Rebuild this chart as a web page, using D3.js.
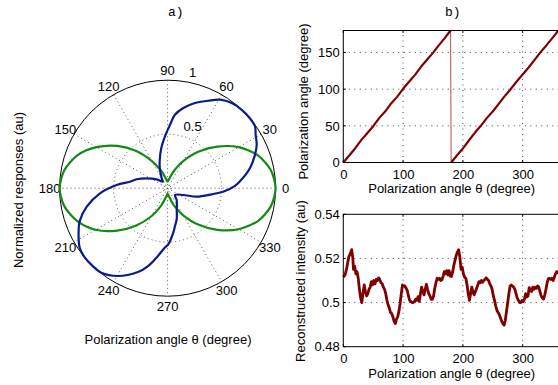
<!DOCTYPE html>
<html><head><meta charset="utf-8">
<script src="https://cdn.jsdelivr.net/npm/d3@7"></script>
<style>
body{margin:0;background:#fff}
svg{display:block}
text{font-family:"Liberation Sans",Arial,Helvetica,sans-serif;font-size:13px;fill:#000}
.mono{font-family:"Liberation Mono","Courier New",monospace}
</style>
</head><body>
<svg id="c" width="558" height="385"></svg>
<script>
// ---------- DATA ----------
// Panel a) polar responses
const angleTicks = [0,30,60,90,120,150,180,210,240,270,300,330];
const radiusTicks = [0.5, 1];
const greenTheta = [0,10,20,30,40,50,60,70,80,90,100,110,120,130,140,150,160,170,180,190,200,210,220,230,240,250,260,270,280,290,300,310,320,330,340,350];
const greenR     = [1.00,0.97,0.89,0.76,0.60,0.44,0.29,0.17,0.09,0.06,0.09,0.17,0.29,0.45,0.61,0.76,0.89,0.97,1.00,0.97,0.89,0.77,0.61,0.45,0.30,0.17,0.08,0.05,0.08,0.17,0.29,0.44,0.60,0.76,0.89,0.97];
const blueTheta = [1.9,5.4,13.8,21,26,31.3,35.3,40.4,46.6,53,59.4,65.1,72.2,78.9,84.3,87.8,92.9,98.9,106.4,112.7,120.8,127,140.8,154.7,163.9,170.2,176.4,184.3,192.9,200.5,204.8,214.1,220,225.6,231.9,240.5,250.5,255.9,261.9,267.2,270.7,277.3,281,286.3,292.7,307.6,317.4,336.6,343.7,352.1,357.2];
const blueR     = [0.624,0.673,0.786,0.867,0.918,0.954,0.992,1.0,0.999,0.987,0.952,0.893,0.829,0.757,0.684,0.588,0.481,0.377,0.26,0.183,0.107,0.075,0.130,0.214,0.298,0.353,0.472,0.628,0.768,0.869,0.907,0.983,1.0,1.0,0.995,0.934,0.823,0.743,0.634,0.552,0.52,0.415,0.357,0.30,0.219,0.138,0.093,0.158,0.281,0.412,0.532];

// Panel b) top: recovered polarization angle
const phiTheta = [0,10,20,30,40,50,60,70,80,90,100,110,120,130,140,150,160,170,179.3,180.5,190,200,210,220,230,240,250,260,270,280,290,300,310,320,330,340,350,360];
const phiValue = [0,9.5,19.5,30.5,40,49.5,60.5,69.5,80.5,89.5,100.5,110,119.5,130.5,140,149.5,160,170,180,0,9.5,19,30,40.5,50,60.5,69.5,80,90.5,100,110.5,120,129.5,140,150.5,160,170,180];
const phiXTicks = [0,100,200,300];
const phiYTicks = [0,50,100,150];

// Panel b) bottom: reconstructed intensity
const intTheta = [0,3,6,9,12,14,16,17,19,21,23,25,27,29,31,33,35,37,39,41,43,45,47,49,51,53,55,57,59,61,63,65,67,69,71,73,75,77,79,81,83,85,87,89,91,93,95,97,99,101,103,105,107,109,111,113,115,117,119,121,123,125,127,129,131,133,135,137,139,141,143,145,147,149,151,153,155,157,159,161,163,165,167,169,171,173,175,177,179,
181,183,185,187,189,191,193,195,197,199,201,203,205,207,209,211,213,215,217,219,221,223,225,227,229,231,233,235,237,239,241,243,245,247,249,251,253,255,257,259,261,263,265,267,269,271,273,275,277,279,281,283,285,287,289,291,293,295,297,299,301,303,305,307,309,311,313,315,317,319,321,323,325,327,329,331,333,335,337,339,341,343,345,347,349,351,353,355,357,359,360];
const intValue = [0.5115,0.5125,0.5160,0.5205,0.5225,0.5240,0.5200,0.5150,0.5165,0.5130,0.5140,0.5110,0.5060,0.5020,0.5000,0.5045,0.5080,0.5050,0.5030,0.5040,0.5060,0.5070,0.5095,0.5080,0.5100,0.5085,0.5105,0.5100,0.5112,0.5105,0.5090,0.5085,0.5070,0.5060,0.5040,0.5010,0.4990,0.4975,0.4955,0.4950,0.4935,0.4915,0.4905,0.4925,0.4935,0.4960,0.4995,0.5040,0.5080,0.5075,0.5075,0.5065,0.5055,0.5030,0.5010,0.5005,0.5000,0.5000,0.5005,0.5015,0.5010,0.5027,0.5005,0.5040,0.5070,0.5050,0.5035,0.5060,0.5083,0.5060,0.5040,0.5030,0.5015,0.5015,0.5030,0.5065,0.5090,0.5110,0.5105,0.5110,0.5100,0.5103,0.5120,0.5140,0.5130,0.5145,0.5125,0.5145,0.5120,
0.5118,0.5140,0.5170,0.5192,0.5215,0.5230,0.5240,0.5205,0.5150,0.5160,0.5130,0.5115,0.5110,0.5080,0.5040,0.5010,0.5040,0.5070,0.5045,0.5035,0.5050,0.5065,0.5080,0.5095,0.5090,0.5100,0.5092,0.5100,0.5105,0.5112,0.5105,0.5100,0.5085,0.5075,0.5060,0.5030,0.5010,0.4985,0.4965,0.4955,0.4945,0.4930,0.4915,0.4905,0.4898,0.4920,0.4960,0.5000,0.5040,0.5075,0.5080,0.5075,0.5070,0.5060,0.5040,0.5020,0.5010,0.5000,0.5000,0.5010,0.5005,0.5015,0.5040,0.5025,0.5030,0.5068,0.5055,0.5050,0.5070,0.5060,0.5070,0.5065,0.5075,0.5070,0.5050,0.5030,0.5020,0.5016,0.5035,0.5060,0.5090,0.5109,0.5110,0.5105,0.5110,0.5100,0.5115,0.5130,0.5140,0.5135,0.5145];
const intYTicks = [0.48,0.5,0.52,0.54];

// ---------- DRAW ----------
const svg = d3.select('#c');
const deg = Math.PI/180;

// ---- Panel a: polar ----
const cx = 167.6, cy = 188.2, R = 108;
const rs = d3.scaleLinear().domain([0,1]).range([0,R]);
const pg = svg.append('g').attr('transform',`translate(${cx},${cy})`);

[0,30,60,90,120,150].forEach(a=>{
  pg.append('line')
    .attr('x1', rs(1)*Math.cos(a*deg)).attr('y1', -rs(1)*Math.sin(a*deg))
    .attr('x2', -rs(1)*Math.cos(a*deg)).attr('y2', rs(1)*Math.sin(a*deg))
    .attr('stroke','#555').attr('stroke-width',1).attr('stroke-dasharray','1,3');
});
radiusTicks.filter(t=>t<1).concat([0.03]).forEach(t=>{
  pg.append('circle').attr('r', rs(t)).attr('fill','none')
    .attr('stroke','#555').attr('stroke-width',1).attr('stroke-dasharray','1,3');
});
pg.append('circle').attr('r', rs(1)).attr('fill','none').attr('stroke','#000').attr('stroke-width',1);

pg.selectAll('text.ang').data(angleTicks).enter().append('text')
  .attr('x', a => (rs(1)+10)*Math.cos(a*deg))
  .attr('y', a => -(rs(1)+10)*Math.sin(a*deg))
  .attr('text-anchor','middle').attr('dominant-baseline','central')
  .text(a=>a);
pg.selectAll('text.rad').data(radiusTicks).enter().append('text')
  .attr('x', 25)
  .attr('y', t => -(rs(t)+8))
  .attr('text-anchor','middle').attr('dominant-baseline','central')
  .text(t=>t);

const radial = d3.lineRadial()
  .angle(d => (90 - d[0]) * deg)
  .radius(d => rs(d[1]));

const greenData = greenTheta.map((t,i)=>[t, greenR[i]]);
const blueData = blueTheta.map((t,i)=>[t, blueR[i]]);
pg.append('path').attr('d', radial.curve(d3.curveCardinalClosed.tension(0.2))(greenData))
  .attr('fill','none').attr('stroke','#148a14').attr('stroke-width',2.2).attr('stroke-linejoin','round');
pg.append('path').attr('d', radial.curve(d3.curveCatmullRomClosed.alpha(0.5))(blueData))
  .attr('fill','none').attr('stroke','#0c1a8c').attr('stroke-width',2.2).attr('stroke-linejoin','round');

svg.append('text').attr('class','mono').attr('x',175.8).attr('y',16).attr('text-anchor','middle').text('a)');
svg.append('text').attr('x',168).attr('y',343.6).attr('text-anchor','middle').text('Polarization angle θ (degree)');
svg.append('text').attr('transform','translate(22.6,190) rotate(-90)').attr('text-anchor','middle').text('Normalized responses (au)');

// ---- Panel b: cartesian ----
const x = d3.scaleLinear().domain([0,360]).range([343.3, 558.5]);

function panel(y, yTicks, xTicks, xGridVals, yGridVals, tickPad){
  const g = svg.append('g');
  const [y0,y1] = y.range();
  g.selectAll('line.vg').data(xGridVals).enter().append('line')
    .attr('x1',d=>x(d)).attr('x2',d=>x(d)).attr('y1',y0).attr('y2',y1)
    .attr('stroke','#444').attr('stroke-dasharray','1,4.5');
  g.selectAll('line.hg').data(yGridVals).enter().append('line')
    .attr('x1',x.range()[0]).attr('x2',x.range()[1]).attr('y1',d=>y(d)).attr('y2',d=>y(d))
    .attr('stroke','#444').attr('stroke-dasharray','1,4.5');
  const ax = g.append('g').attr('transform',`translate(0,${y0})`)
    .call(d3.axisBottom(x).tickValues(xTicks).tickSize(0).tickPadding(tickPad));
  ax.select('.domain').remove();
  ax.selectAll('text').style('font-family','"Liberation Sans",Arial,sans-serif').style('font-size','13px');
  const ay = g.append('g').attr('transform',`translate(${x.range()[0]},0)`)
    .call(d3.axisLeft(y).tickValues(yTicks).tickSize(0).tickPadding(3.5).tickFormat(d=>String(d)));
  ay.select('.domain').remove();
  ay.selectAll('text').style('font-family','"Liberation Sans",Arial,sans-serif').style('font-size','13px');
  xTicks.forEach(t=>{
    g.append('line').attr('x1',x(t)).attr('x2',x(t)).attr('y1',y0).attr('y2',y0-2.5).attr('stroke','#000');
    g.append('line').attr('x1',x(t)).attr('x2',x(t)).attr('y1',y1).attr('y2',y1+2.5).attr('stroke','#000');
  });
  yTicks.forEach(t=>{
    g.append('line').attr('x1',x.range()[0]).attr('x2',x.range()[0]+2.5).attr('y1',y(t)).attr('y2',y(t)).attr('stroke','#000');
  });
  return g;
}

const yTop = d3.scaleLinear().domain([0,180]).range([162.5,30.5]);
const gTop = panel(yTop, phiYTicks, phiXTicks, [100,200,300], [50,100,150], 7.0);
const phiData = phiTheta.map((t,i)=>[t, phiValue[i]]);
const segs = [[phiData[0]]];
const jumps = [];
for(let i=1;i<phiData.length;i++){
  if(Math.abs(phiData[i][1]-phiData[i-1][1])>90){ jumps.push([phiData[i-1],phiData[i]]); segs.push([phiData[i]]); }
  else segs[segs.length-1].push(phiData[i]);
}
const lineTop = d3.line().x(d=>x(d[0])).y(d=>yTop(d[1]));
jumps.forEach(j=>gTop.append('path').attr('d',lineTop(j)).attr('fill','none').attr('stroke','#c46a6a').attr('stroke-width',1.2));
segs.forEach(s=>gTop.append('path').attr('d',lineTop(s)).attr('fill','none').attr('stroke','#800000').attr('stroke-width',2.2).attr('stroke-linejoin','round'));
gTop.append('rect').attr('x',x(0)).attr('y',yTop(180)).attr('width',x(360)-x(0)).attr('height',yTop(0)-yTop(180))
  .attr('fill','none').attr('stroke','#000').attr('stroke-width',1);

const yBot = d3.scaleLinear().domain([0.48,0.54]).range([346.7,214.3]);
const gBot = panel(yBot, intYTicks, phiXTicks, [100,200,300], [0.5,0.52], 7.0);
const intData = intTheta.map((t,i)=>[t,intValue[i]]);
gBot.append('path').attr('d', d3.line().x(d=>x(d[0])).y(d=>yBot(d[1]))(intData))
  .attr('fill','none').attr('stroke','#800000').attr('stroke-width',2.8).attr('stroke-linejoin','round');
gBot.append('rect').attr('x',x(0)).attr('y',yBot(0.54)).attr('width',x(360)-x(0)).attr('height',yBot(0.48)-yBot(0.54))
  .attr('fill','none').attr('stroke','#000').attr('stroke-width',1);

svg.append('text').attr('class','mono').attr('x',452.8).attr('y',16).attr('text-anchor','middle').text('b)');
svg.append('text').attr('x',451.7).attr('y',193.4).attr('text-anchor','middle').text('Polarization angle θ (degree)');
svg.append('text').attr('x',451.7).attr('y',377.8).attr('text-anchor','middle').text('Polarization angle θ (degree)');
svg.append('text').attr('transform','translate(307.6,101.5) rotate(-90)').attr('text-anchor','middle').text('Polarization angle (degree)');
svg.append('text').attr('transform','translate(305.3,281) rotate(-90)').attr('text-anchor','middle').text('Reconstructed intensity (au)');
</script>
</body></html>
